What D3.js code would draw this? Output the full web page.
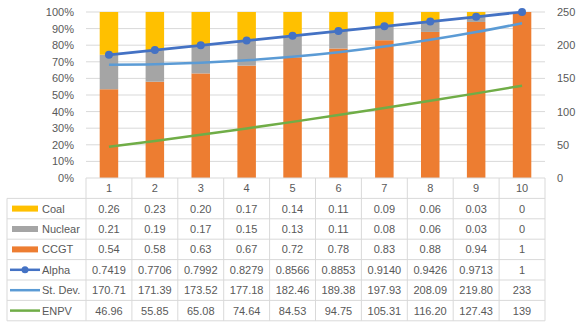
<!DOCTYPE html>
<html>
<head>
<meta charset="utf-8">
<script src="https://cdn.jsdelivr.net/npm/d3@7"></script>
<style>
  body { margin: 0; background: #fff; }
  text { font-family: "Liberation Sans", Arial, sans-serif; fill: #595959; }
</style>
</head>
<body>
<svg id="chart" width="587" height="332"></svg>
<script>
// data
const categories = ["1", "2", "3", "4", "5", "6", "7", "8", "9", "10"];
const coal    = [0.26, 0.23, 0.20, 0.17, 0.14, 0.11, 0.09, 0.06, 0.03, 0];
const nuclear = [0.21, 0.19, 0.17, 0.15, 0.13, 0.11, 0.08, 0.06, 0.03, 0];
const ccgt    = [0.54, 0.58, 0.63, 0.67, 0.72, 0.78, 0.83, 0.88, 0.94, 1];
const alpha   = [0.7419, 0.7706, 0.7992, 0.8279, 0.8566, 0.8853, 0.9140, 0.9426, 0.9713, 1];
const stdev   = [170.71, 171.39, 173.52, 177.18, 182.46, 189.38, 197.93, 208.09, 219.80, 233];
const enpv    = [46.96, 55.85, 65.08, 74.64, 84.53, 94.75, 105.31, 116.20, 127.43, 139];

const alphaLabels = ["0.7419","0.7706","0.7992","0.8279","0.8566","0.8853","0.9140","0.9426","0.9713","1"];
const stdevLabels = ["170.71","171.39","173.52","177.18","182.46","189.38","197.93","208.09","219.80","233"];
const enpvLabels  = ["46.96","55.85","65.08","74.64","84.53","94.75","105.31","116.20","127.43","139"];
const twoDec = v => v === 0 ? "0" : (v === 1 ? "1" : v.toFixed(2));

const colors = { coal: "#FFC000", nuclear: "#A5A5A5", ccgt: "#ED7D31",
                 alpha: "#4472C4", stdev: "#5B9BD5", enpv: "#70AD47" };

let svg = d3.select("#chart");

let plot_left = 86, plot_right = 545, plot_top = 12, plot_bottom = 178;
let table_left = 7, row_h = 20.4;

let x = d3.scaleBand().domain(categories).range([plot_left, plot_right]).paddingInner(0).paddingOuter(0);
let y_left = d3.scaleLinear().domain([0, 1]).range([plot_bottom, plot_top]);
let y_right = d3.scaleLinear().domain([0, 250]).range([plot_bottom, plot_top]);

// gridlines
svg.append("g").selectAll("line")
  .data(d3.range(1, 11).map(d => d / 10)).enter().append("line")
  .attr("x1", plot_left).attr("x2", plot_right)
  .attr("y1", d => y_left(d)).attr("y2", d => y_left(d))
  .attr("stroke", "#D9D9D9").attr("stroke-width", 1);

// left axis
let leftAxis = svg.append("g")
  .attr("transform", "translate(" + (plot_left - 12) + ",0)")
  .call(d3.axisLeft(y_left).tickValues(d3.range(0, 11).map(d => d / 10))
    .tickFormat(d3.format(".0%")).tickSize(0).tickPadding(0));
leftAxis.select(".domain").remove();
leftAxis.selectAll("text").style("font-size", "11px").attr("fill", "#595959")
  .attr("font-family", "Liberation Sans, Arial, sans-serif");

// right axis
let rightAxis = svg.append("g")
  .attr("transform", "translate(" + 557 + ",0)")
  .call(d3.axisRight(y_right).tickValues(d3.range(0, 251, 50)).tickSize(0).tickPadding(0));
rightAxis.select(".domain").remove();
rightAxis.selectAll("text").style("font-size", "11px").attr("fill", "#595959")
  .attr("font-family", "Liberation Sans, Arial, sans-serif");

// stacked 100% bars
let barRows = categories.map((c, i) => {
  let total = ccgt[i] + nuclear[i] + coal[i];
  return { cat: c, ccgt: ccgt[i] / total, nuclear: nuclear[i] / total, coal: coal[i] / total };
});
let stack = d3.stack().keys(["ccgt", "nuclear", "coal"])(barRows);
let bar_w = 18.5;
svg.append("g").selectAll("g")
  .data(stack).enter().append("g")
  .attr("fill", d => colors[d.key])
  .selectAll("rect").data(d => d).enter().append("rect")
  .attr("x", d => x(d.data.cat) + x.bandwidth() / 2 - bar_w / 2)
  .attr("width", bar_w)
  .attr("y", d => y_left(d[1]))
  .attr("height", d => y_left(d[0]) - y_left(d[1]));

let cx = c => x(c) + x.bandwidth() / 2;

// lines
let enpvLine = d3.line().x((d, i) => cx(categories[i])).y(d => y_right(d));
svg.append("path").datum(enpv).attr("d", enpvLine)
  .attr("fill", "none").attr("stroke", colors.enpv).attr("stroke-width", 2.5);
svg.append("path").datum(stdev).attr("d", d3.line().curve(d3.curveMonotoneX).x((d, i) => cx(categories[i])).y(d => y_right(d)))
  .attr("fill", "none").attr("stroke", colors.stdev).attr("stroke-width", 2.5);
svg.append("path").datum(alpha).attr("d", d3.line().x((d, i) => cx(categories[i])).y(d => y_left(d)))
  .attr("fill", "none").attr("stroke", colors.alpha).attr("stroke-width", 2.75);
svg.append("g").selectAll("circle").data(alpha).enter().append("circle")
  .attr("cx", (d, i) => cx(categories[i])).attr("cy", d => y_left(d))
  .attr("r", 4).attr("fill", colors.alpha);

// data table
let tbl = svg.append("g").attr("class", "table");
let border = "#D9D9D9";
let rows = [
  { name: "Coal",      key: "coal",    type: "bar",  labels: coal.map(twoDec) },
  { name: "Nuclear",   key: "nuclear", type: "bar",  labels: nuclear.map(twoDec) },
  { name: "CCGT",      key: "ccgt",    type: "bar",  labels: ccgt.map(twoDec) },
  { name: "Alpha",     key: "alpha",   type: "mark", labels: alphaLabels },
  { name: "St. Dev.",  key: "stdev",   type: "line", labels: stdevLabels },
  { name: "ENPV",      key: "enpv",    type: "line", labels: enpvLabels }
];
let table_top = plot_bottom + row_h;
let table_bottom = table_top + rows.length * row_h;

// horizontal lines
tbl.append("line").attr("x1", plot_left).attr("x2", plot_right)
  .attr("y1", plot_bottom).attr("y2", plot_bottom).attr("stroke", border);
tbl.selectAll(".hline").data(d3.range(rows.length + 1)).enter().append("line")
  .attr("x1", table_left).attr("x2", plot_right)
  .attr("y1", d => table_top + d * row_h).attr("y2", d => table_top + d * row_h)
  .attr("stroke", border);
// vertical lines
tbl.selectAll(".vline").data(categories.concat(["end"])).enter().append("line")
  .attr("x1", d => d === "end" ? plot_right : x(d)).attr("x2", d => d === "end" ? plot_right : x(d))
  .attr("y1", plot_bottom).attr("y2", table_bottom).attr("stroke", border);
tbl.append("line").attr("x1", table_left).attr("x2", table_left)
  .attr("y1", table_top).attr("y2", table_bottom).attr("stroke", border);

// header
tbl.selectAll(".hdr").data(categories).enter().append("text")
  .attr("x", d => cx(d)).attr("y", plot_bottom + row_h / 2 + 4)
  .attr("text-anchor", "middle").style("font-size", "11px").text(d => d);

rows.forEach((r, ri) => {
  let ry = table_top + ri * row_h;
  let mid = ry + row_h / 2;
  if (r.type === "bar") {
    tbl.append("rect").attr("x", 12).attr("y", mid - 3).attr("width", 26).attr("height", 6)
      .attr("fill", colors[r.key]);
  } else {
    tbl.append("line").attr("x1", 10).attr("x2", 40).attr("y1", mid).attr("y2", mid)
      .attr("stroke", colors[r.key]).attr("stroke-width", 2.5);
    if (r.type === "mark") {
      tbl.append("circle").attr("cx", 25).attr("cy", mid).attr("r", 3.5).attr("fill", colors[r.key]);
    }
  }
  tbl.append("text").attr("x", 42).attr("y", mid + 4).style("font-size", "11px").text(r.name);
  tbl.selectAll(".v" + ri).data(r.labels).enter().append("text")
    .attr("x", (d, i) => cx(categories[i])).attr("y", mid + 4)
    .attr("text-anchor", "middle").style("font-size", "11px").text(d => d);
});
</script>
</body>
</html>
